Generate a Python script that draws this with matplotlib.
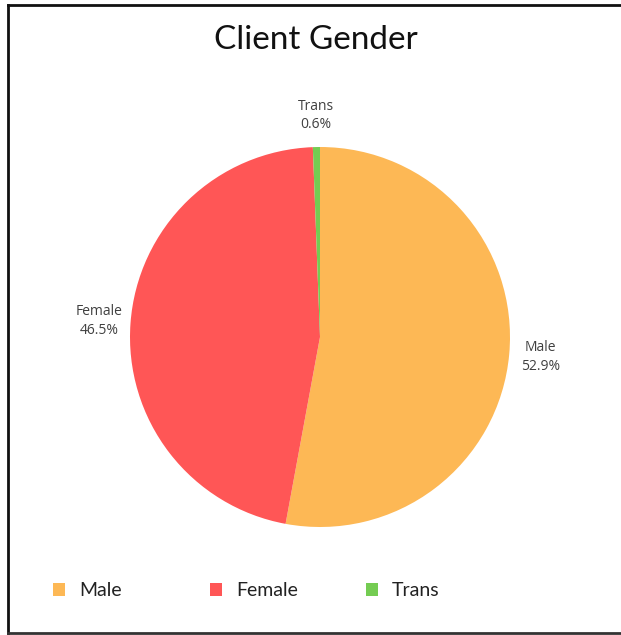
import matplotlib
matplotlib.use("Agg")
import matplotlib.pyplot as plt
from matplotlib.lines import Line2D

categories = ["Male", "Female", "Trans"]
values = [52.9, 46.5, 0.6]
colors = ["#FDB855", "#FF5656", "#74CC52"]
title = "Client Gender"

W, H = 621, 635
fig = plt.figure(figsize=(W / 100, H / 100), dpi=100)
fig.patch.set_facecolor("white")

# pie axes: centre (320, 337) px, radius 190 px
cx, cy, r = 320, 337, 190
ax = fig.add_axes([(cx - r) / W, (H - cy - r) / H, 2 * r / W, 2 * r / H])

labels = [f"{c}\n{v:.1f}%" for c, v in zip(categories, values)]
wedges, texts = ax.pie(values, colors=colors, startangle=90, counterclock=False,
                       labels=labels, labeldistance=1.166,
                       wedgeprops=dict(linewidth=0))
for t in texts:
    t.set_ha("center")
    t.set_va("center")
    t.set_fontsize(10)
    t.set_family(["Open Sans", "DejaVu Sans"])
    t.set_color("#404040")
    t.set_linespacing(1.35)
ax.set_xlim(-1, 1)
ax.set_ylim(-1, 1)
ax.set_aspect("equal")
ax.axis("off")

fig.text(316 / W, 1 - 40 / H, title, ha="center", va="center",
         fontsize=24, family=["Lato", "DejaVu Sans"], color="#111111")

# legend: one entry per evenly spaced column
legend_x = [53, 210, 366]
for w, c, x in zip(wedges, categories, legend_x):
    leg = fig.legend([w], [c], loc="center left",
                     bbox_to_anchor=(x / W, 1 - 591 / H), frameon=False,
                     prop=dict(family=["Lato", "DejaVu Sans"], size=14),
                     handlelength=0.6, handleheight=0.6, handletextpad=0.75,
                     borderaxespad=0, borderpad=0)
    for t in leg.get_texts():
        t.set_color("#222222")

# frame: left, top and bottom lines (right edge cut off in the image)
lw = 2.0
fig.add_artist(Line2D([8 / W, 8 / W], [2 / H, 630 / H], transform=fig.transFigure,
                      color="#111111", linewidth=lw, solid_capstyle="projecting"))
fig.add_artist(Line2D([8 / W, 1.0], [630 / H, 630 / H], transform=fig.transFigure,
                      color="#111111", linewidth=lw, solid_capstyle="projecting"))
fig.add_artist(Line2D([8 / W, 1.0], [2 / H, 2 / H], transform=fig.transFigure,
                      color="#333333", linewidth=lw, solid_capstyle="projecting"))

fig.savefig("out.png", dpi=100, facecolor="white")
